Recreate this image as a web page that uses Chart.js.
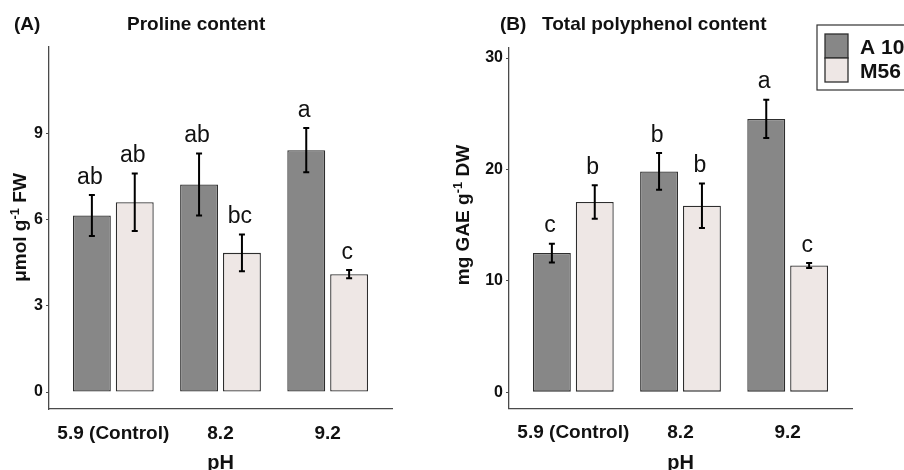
<!DOCTYPE html>
<html>
<head>
<meta charset="utf-8">
<script src="https://cdn.jsdelivr.net/npm/chart.js@4.4.1/dist/chart.umd.min.js"></script>
<style>
  html, body { margin: 0; padding: 0; background: #fff; overflow: hidden; }
  #wrap { position: relative; width: 904px; height: 470px; }
  canvas { position: absolute; top: 0; }
  #chartA { left: 0; }
  #chartB { left: 450px; }
</style>
</head>
<body>
<div id="wrap">
  <canvas id="chartA" width="450" height="470"></canvas>
  <canvas id="chartB" width="454" height="470"></canvas>
</div>
<script>
// data
const categories = ["5.9 (Control)", "8.2", "9.2"];
const seriesNames = ["A 10", "M56"];

const prolineA10 = [6.14, 7.22, 8.41];
const prolineA10Err = [0.71, 1.08, 0.77];
const prolineM56 = [6.6, 4.84, 4.1];
const prolineM56Err = [1.0, 0.64, 0.14];
const prolineA10Letters = ["ab", "ab", "a"];
const prolineM56Letters = ["ab", "bc", "c"];
const prolineTicks = [0, 3, 6, 9];

const polyA10 = [12.49, 19.82, 24.53];
const polyA10Err = [0.84, 1.65, 1.72];
const polyM56 = [17.07, 16.74, 11.37];
const polyM56Err = [1.5, 2.0, 0.22];
const polyA10Letters = ["c", "b", "a"];
const polyM56Letters = ["b", "b", "c"];
const polyTicks = [0, 10, 20, 30];

const FONT = "'Liberation Sans', Arial, Helvetica, sans-serif";
const DARK = "#878787";
const LIGHT = "#EEE7E5";
const EDGE = "#2e2e2e";

// error bars, letters, titles and legend
const panelPlugin = {
  id: "panel",
  afterDatasetsDraw(chart, args, opts) {
    const { ctx, scales } = chart;
    chart.data.datasets.forEach((ds, di) => {
      const meta = chart.getDatasetMeta(di);
      meta.data.forEach((bar, i) => {
        const v = ds.data[i].y;
        const e = ds.errors[i];
        const yTop = scales.y.getPixelForValue(v + e);
        const yBot = scales.y.getPixelForValue(v - e);
        ctx.save();
        ctx.strokeStyle = "#000";
        ctx.lineWidth = 2;
        ctx.beginPath();
        ctx.moveTo(bar.x, yTop);
        ctx.lineTo(bar.x, yBot);
        ctx.moveTo(bar.x - 3, yTop);
        ctx.lineTo(bar.x + 3, yTop);
        ctx.moveTo(bar.x - 3, yBot);
        ctx.lineTo(bar.x + 3, yBot);
        ctx.stroke();
        ctx.fillStyle = "#111";
        ctx.font = "23px " + FONT;
        ctx.textAlign = "center";
        ctx.textBaseline = "alphabetic";
        ctx.fillText(ds.letters[i], bar.x - 2, yTop - 11.5);
        ctx.restore();
      });
    });
  },
  afterDraw(chart, args, opts) {
    const { ctx, chartArea } = chart;
    ctx.save();
    ctx.fillStyle = "#111";
    ctx.textBaseline = "alphabetic";
    ctx.textAlign = "left";
    ctx.font = "bold 19px " + FONT;
    ctx.fillText(opts.tag, opts.tagX, 29.5);
    ctx.fillText(opts.title, opts.titleX, 29.5);

    // x axis title
    ctx.textAlign = "center";
    ctx.font = "bold 20px " + FONT;
    ctx.fillText("pH", (chartArea.left + chartArea.right) / 2, 469);

    // y axis title with superscript
    const parts = [
      { t: opts.yPre, f: "bold 19px " + FONT, dy: 0 },
      { t: "-1", f: "bold 13px " + FONT, dy: -7 },
      { t: opts.yPost, f: "bold 19px " + FONT, dy: 0 },
    ];
    let total = 0;
    parts.forEach((p) => { ctx.font = p.f; p.w = ctx.measureText(p.t).width; total += p.w; });
    ctx.translate(opts.yTitleX, opts.yTitleY);
    ctx.rotate(-Math.PI / 2);
    ctx.textAlign = "left";
    let x = -total / 2;
    parts.forEach((p) => { ctx.font = p.f; ctx.fillText(p.t, x, p.dy); x += p.w; });
    ctx.restore();

    if (opts.legend) {
      const L = opts.legend;
      ctx.save();
      ctx.strokeStyle = "#333";
      ctx.lineWidth = 1.2;
      ctx.strokeRect(L.x, L.y, 120, 65);
      chart.data.datasets.forEach((ds, di) => {
        const ky = L.y + 9 + di * 24;
        ctx.fillStyle = ds.backgroundColor;
        ctx.fillRect(L.x + 8, ky, 23, 24);
        ctx.strokeStyle = EDGE;
        ctx.lineWidth = 1.3;
        ctx.strokeRect(L.x + 8, ky, 23, 24);
        ctx.fillStyle = "#111";
        ctx.font = "bold 21px " + FONT;
        ctx.textAlign = "left";
        ctx.textBaseline = "alphabetic";
        ctx.fillText(ds.label, L.x + 43, ky + 19.5);
      });
      ctx.restore();
    }
  },
};

function makeDataset(label, values, errors, letters, color) {
  return {
    label: label,
    data: values.map((v, i) => ({ x: i + 1, y: v })),
    errors: errors,
    letters: letters,
    backgroundColor: color,
    borderColor: EDGE,
    borderWidth: 1.3,
    borderSkipped: false,
    categoryPercentage: 0.8,
    barPercentage: 0.884,
  };
}

function buildChart(id, cfg) {
  return new Chart(document.getElementById(id), {
    type: "bar",
    data: {
      datasets: [
        makeDataset(seriesNames[0], cfg.a10, cfg.a10Err, cfg.a10Letters, DARK),
        makeDataset(seriesNames[1], cfg.m56, cfg.m56Err, cfg.m56Letters, LIGHT),
      ],
    },
    plugins: [panelPlugin],
    options: {
      responsive: false,
      animation: false,
      devicePixelRatio: 1,
      layout: { padding: { left: 0, right: cfg.padRight, top: cfg.padTop, bottom: 0 } },
      plugins: {
        legend: { display: false },
        tooltip: { enabled: false },
        panel: cfg.panel,
      },
      scales: {
        x: {
          type: "linear",
          min: 0.4,
          max: 3.6,
          offset: false,
          bounds: "data",
          grid: { display: false, drawTicks: false },
          border: { display: true, color: "#4a4a4a", width: 1.3 },
          afterBuildTicks: (scale) => { scale.ticks = categories.map((c, i) => ({ value: i + 1 })); },
          afterFit: (scale) => { scale.height = cfg.xAxisH; },
          ticks: {
            autoSkip: false,
            maxRotation: 0,
            padding: 13,
            color: "#111",
            font: { family: FONT, size: 19, weight: "bold" },
            callback: (value, index) => categories[index],
          },
        },
        y: {
          min: cfg.yMin,
          max: cfg.yMax,
          bounds: "data",
          grid: { display: true, drawOnChartArea: false, drawTicks: true, tickLength: 3, color: "#4a4a4a", tickWidth: 1 },
          border: { display: true, color: "#4a4a4a", width: 1.3 },
          afterBuildTicks: (scale) => { scale.ticks = cfg.ticks.map((v) => ({ value: v })); },
          afterFit: (scale) => { scale.width = cfg.yAxisW; },
          ticks: {
            padding: 3,
            color: "#111",
            font: { family: FONT, size: 16, weight: "bold" },
          },
        },
      },
    },
  });
}

buildChart("chartA", {
  a10: prolineA10, a10Err: prolineA10Err, a10Letters: prolineA10Letters,
  m56: prolineM56, m56Err: prolineM56Err, m56Letters: prolineM56Letters,
  ticks: prolineTicks, yMin: -0.59, yMax: 12.0,
  yAxisW: 49, padRight: 58, padTop: 47, xAxisH: 61,
  panel: {
    tag: "(A)", tagX: 14, title: "Proline content", titleX: 127,
    yPre: "\u03bcmol g", yPost: " FW", yTitleX: 26, yTitleY: 227.5,
  },
});

buildChart("chartB", {
  a10: polyA10, a10Err: polyA10Err, a10Letters: polyA10Letters,
  m56: polyM56, m56Err: polyM56Err, m56Letters: polyM56Letters,
  ticks: polyTicks, yMin: -1.47, yMax: 30.9,
  yAxisW: 59, padRight: 52, padTop: 48, xAxisH: 61.5,
  panel: {
    tag: "(B)", tagX: 50, title: "Total polyphenol content", titleX: 92,
    yPre: "mg GAE g", yPost: " DW", yTitleX: 18.5, yTitleY: 215,
    legend: { x: 367, y: 25 },
  },
});
</script>
</body>
</html>
